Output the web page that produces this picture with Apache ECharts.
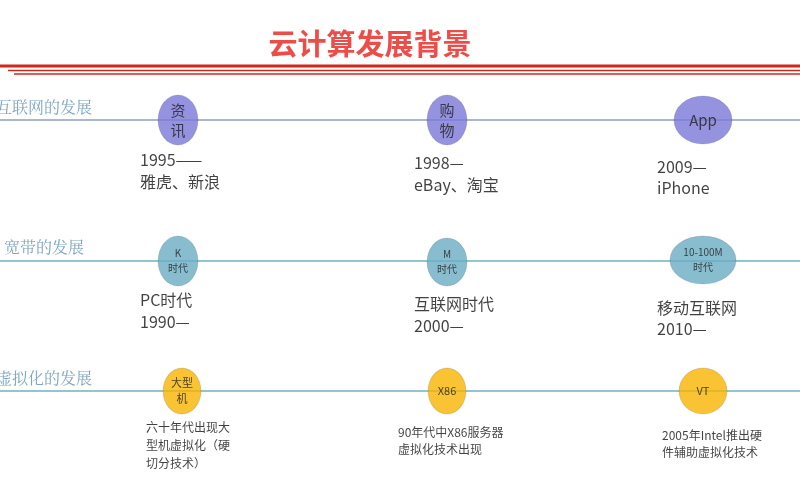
<!DOCTYPE html><html><head><meta charset="utf-8"><script src="https://cdn.jsdelivr.net/npm/echarts@6/dist/echarts.min.js"></script></head><body style="margin:0"><div id="c" style="width:800px;height:500px"></div><script>
const rowNames=['互联网的发展','宽带的发展','虚拟化的发展'];
const rowY=[120,261,391];
const rowLineColors=['#8f9fb8','#6fb0bf','#6fb0bf'];
const nodeX=[[178,447,703],[178,447,703],[182,447,703]];
const nodeY=[[120,120,120],[261,262,260],[391,391,391]];
const nodeSize=[[[40,50],[40,50],[58,48]],[[40,50],[40,48],[66,48]],[[38,46],[38,46],[48,46]]];
const nodeText=[['资\n讯','购\n物','App'],['K\n时代','M\n时代','10-100M\n时代'],['大型\n机','X86','VT']];
const nodeColors=['#7a78d8','#6aacc4','#f8b400'];
const nodeFontSize=[15,10,11];
const captions=[
 [[140,160,'1995——'],[140,182,'雅虎、新浪'],[414,163,'1998—'],[414,185,'eBay、淘宝'],[657,167,'2009—'],[657,188,'iPhone']],
 [[140,300,'PC时代'],[140,322,'1990—'],[414,304,'互联网时代'],[414,326,'2000—'],[657,308,'移动互联网'],[657,329,'2010—']],
 [[146,427,'六十年代出现大'],[146,445,'型机虚拟化（硬'],[146,463,'切分技术）'],[398,432,'90年代中X86服务器'],[398,449,'虚拟化技术出现'],[662,435,'2005年Intel推出硬'],[662,452,'件辅助虚拟化技术']]
];
const captionSize=[16,16,12];
const rowLabelPos=[[92,107],[84,247],[92,378]];
const titleText='云计算发展背景';
const series=[];
const F='"Noto Sans CJK SC", sans-serif';
function seg(x0,x1,y,color,w){series.push({type:'line',data:[[x0,y],[x1,y]],symbol:'none',silent:true,lineStyle:{color,width:w},z:1});}
seg(0,800,66,'#d0281c',3);seg(8,800,70.5,'#d0281c',1.5);seg(14,800,74,'#d0281c',1.5);
series.push({type:'scatter',symbolSize:0,data:[[370,44,titleText]],label:{show:true,formatter:p=>p.value[2],color:'#e8201a',fontSize:29,fontWeight:'bold',fontFamily:F,position:'inside'}});
rowY.forEach((y,i)=>{
 seg(0,800,y,rowLineColors[i],1.5);
 series.push({type:'scatter',symbolSize:0,data:[[rowLabelPos[i][0],rowLabelPos[i][1],rowNames[i]]],label:{show:true,position:'inside',align:'right',formatter:p=>p.value[2],color:'#5b8fb0',fontSize:16,fontFamily:'"Noto Serif CJK SC","Noto Sans CJK SC",serif'}});
 series.push({type:'scatter',z:3,data:nodeX[i].map((x,j)=>({value:[x,nodeY[i][j],nodeText[i][j]],symbolSize:nodeSize[i][j]})),itemStyle:{color:nodeColors[i],borderColor:'rgba(0,0,0,0.15)',borderWidth:1},label:{show:true,position:'inside',formatter:p=>p.value[2],color:'#222',fontSize:nodeFontSize[i],lineHeight:nodeFontSize[i]+5,fontFamily:F}});
 series.push({type:'scatter',symbolSize:0,data:captions[i],label:{show:true,position:'inside',align:'left',formatter:p=>p.value[2],color:'#111',fontSize:captionSize[i],fontFamily:F}});
});
const ch=echarts.init(document.getElementById('c'));
ch.setOption({animation:false,backgroundColor:'#fff',grid:{left:0,right:0,top:0,bottom:0},
xAxis:{type:'value',min:0,max:800,show:false},yAxis:{type:'value',min:0,max:500,inverse:true,show:false},series});
</script></body></html>
